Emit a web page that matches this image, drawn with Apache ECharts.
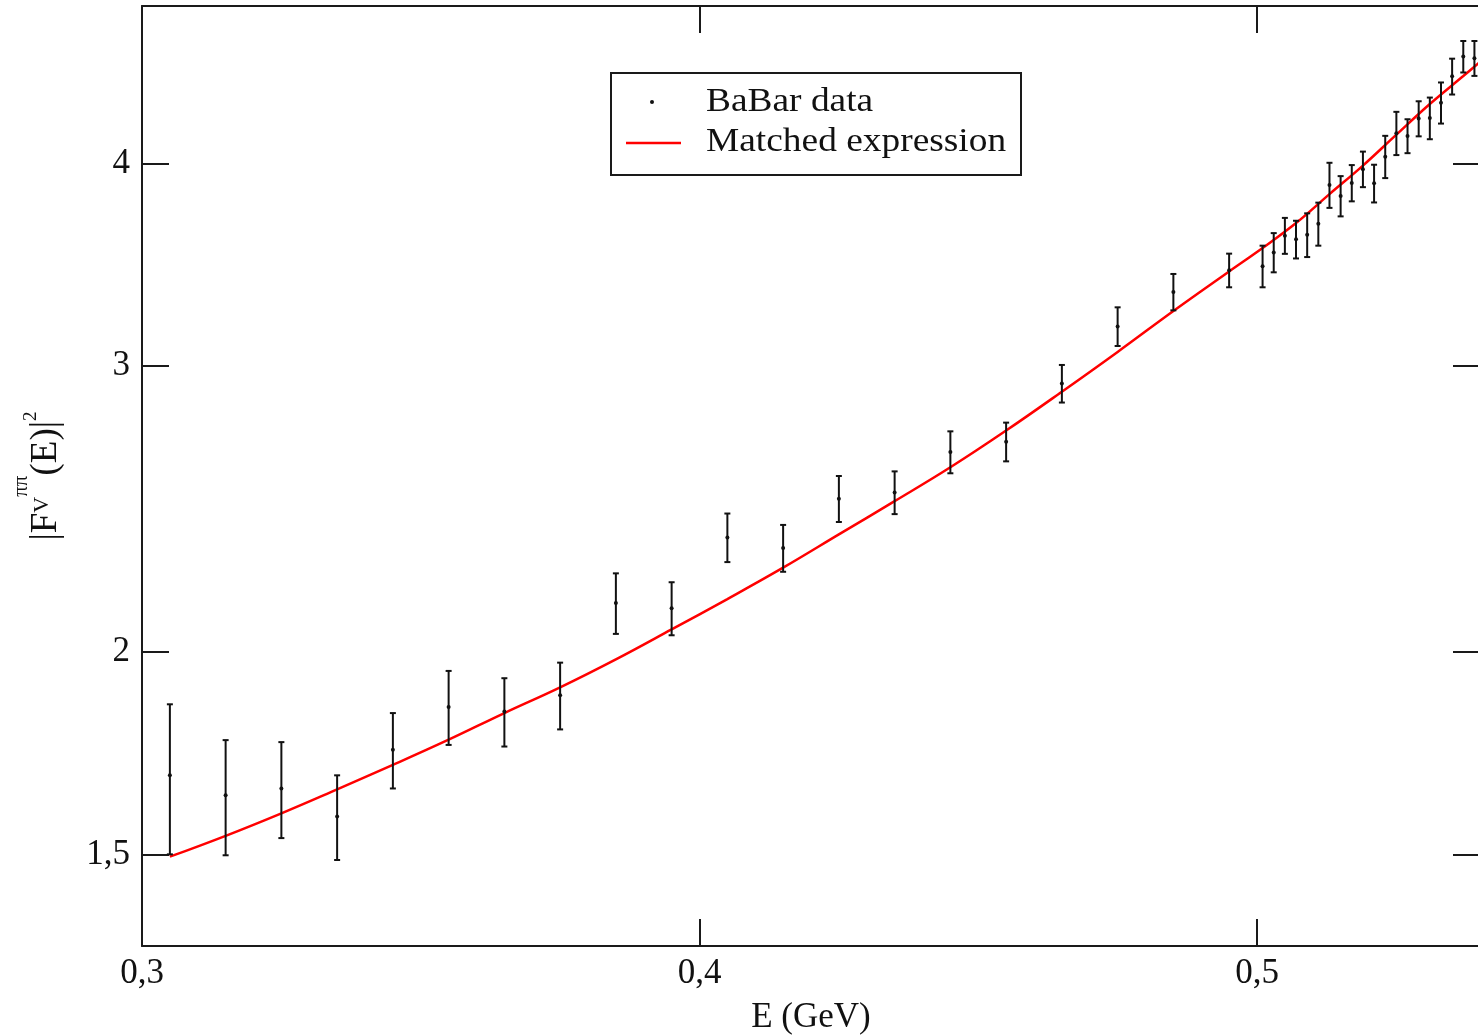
<!DOCTYPE html>
<html>
<head>
<meta charset="utf-8">
<script src="https://cdn.jsdelivr.net/npm/echarts@6/dist/echarts.min.js"></script>
<style>
  html, body { margin: 0; padding: 0; background: #fff; }
  #chart { width: 1478px; height: 1036px; }
</style>
</head>
<body>
<div id="chart"></div>
<script>
// BaBar measurement of the pion vector form factor |F_V^{ππ}(E)|^2
const energies = [
  0.305, 0.315, 0.325, 0.335, 0.345, 0.355, 0.365, 0.375, 0.385, 0.395,
  0.405, 0.415, 0.425, 0.435, 0.445, 0.455, 0.465, 0.475, 0.485, 0.495,
  0.501, 0.503, 0.505, 0.507, 0.509, 0.511, 0.513, 0.515, 0.517, 0.519,
  0.521, 0.523, 0.525, 0.527, 0.529, 0.531, 0.533, 0.535, 0.537, 0.539
];
const formFactor = [
  1.679, 1.632, 1.648, 1.584, 1.741, 1.850, 1.838, 1.881, 2.144, 2.128,
  2.353, 2.318, 2.486, 2.508, 2.656, 2.695, 2.927, 3.174, 3.333, 3.437,
  3.457, 3.525, 3.610, 3.591, 3.614, 3.671, 3.879, 3.819, 3.890, 3.967,
  3.888, 4.038, 4.175, 4.158, 4.262, 4.265, 4.359, 4.525, 4.654, 4.643
];
const formFactorErr = [
  0.178, 0.133, 0.112, 0.095, 0.093, 0.097, 0.089, 0.089, 0.092, 0.080,
  0.081, 0.077, 0.081, 0.076, 0.079, 0.074, 0.078, 0.087, 0.086, 0.082,
  0.102, 0.098, 0.092, 0.096, 0.112, 0.112, 0.124, 0.109, 0.100, 0.100,
  0.104, 0.121, 0.128, 0.100, 0.106, 0.126, 0.127, 0.115, 0.104, 0.115
];

// Matched expression
const curveEnergies = [
  0.305, 0.315, 0.325, 0.335, 0.345, 0.355, 0.365, 0.375, 0.385, 0.395,
  0.405, 0.415, 0.425, 0.435, 0.445, 0.455, 0.465, 0.475, 0.485, 0.495,
  0.501, 0.507, 0.513, 0.519, 0.525, 0.531, 0.537, 0.540
];
const curveValues = [
  1.496, 1.541, 1.591, 1.646, 1.704, 1.766, 1.834, 1.902, 1.979, 2.065,
  2.156, 2.254, 2.363, 2.477, 2.599, 2.738, 2.893, 3.061, 3.244, 3.431,
  3.547, 3.675, 3.829, 3.987, 4.166, 4.351, 4.527, 4.618
];

const xTicks = [0.3, 0.4, 0.5];
const yTicks = [1.5, 2, 3, 4];

const SERIF = '"Liberation Serif", "Times New Roman", serif';
const INK = '#1a1a1a';
const commaLabel = v => String(v).replace('.', ',');

const axisLine = { show: true, onZero: false, lineStyle: { color: INK, width: 2 } };
const tickStyle = { show: true, inside: true, length: 27, lineStyle: { color: INK, width: 2 } };
const labelStyle = { fontSize: 35, fontFamily: SERIF, color: '#111' };

const chart = echarts.init(document.getElementById('chart'), null, { renderer: 'canvas' });

chart.setOption({
  animation: false,
  backgroundColor: '#fff',
  grid: { left: 142, top: 6, width: 1338, height: 940, containLabel: false, outerBoundsMode: 'none' },
  xAxis: [
    {
      type: 'value', min: 0.3, max: 0.54, position: 'bottom',
      axisLine: axisLine,
      axisTick: Object.assign({}, tickStyle, { customValues: xTicks }),
      axisLabel: Object.assign({}, labelStyle, { customValues: xTicks, formatter: commaLabel, margin: 10 }),
      splitLine: { show: false },
      name: 'E (GeV)', nameLocation: 'middle', nameGap: 54,
      nameTextStyle: { fontSize: 35, fontFamily: SERIF, color: '#111' }
    },
    {
      type: 'value', min: 0.3, max: 0.54, position: 'top',
      axisLine: axisLine,
      axisTick: Object.assign({}, tickStyle, { customValues: xTicks }),
      axisLabel: { show: false },
      splitLine: { show: false }
    }
  ],
  yAxis: [
    {
      type: 'log', logBase: 10, min: 1.318, max: 5, position: 'left',
      axisLine: axisLine,
      axisTick: Object.assign({}, tickStyle, { customValues: yTicks }),
      axisLabel: Object.assign({}, labelStyle, { customValues: yTicks, formatter: commaLabel, margin: 12 }),
      splitLine: { show: false },
      name: '{b|\u007CF}{sub|V}{sup|\u03C0\u03C0}{b|(E)\u007C}{sq|2}',
      nameLocation: 'middle', nameRotate: 90, nameGap: 60,
      nameTextStyle: {
        rich: {
          b: { fontSize: 37, fontFamily: SERIF, color: '#111' },
          sub: { fontSize: 22, fontFamily: SERIF, color: '#111', padding: [0, 0, 8, 0] },
          sup: { fontSize: 21, fontFamily: SERIF, color: '#111', padding: [0, 0, 50, 0] },
          sq: { fontSize: 19, fontFamily: SERIF, color: '#111', padding: [0, 0, 30, 0] }
        }
      }
    },
    {
      type: 'log', logBase: 10, min: 1.318, max: 5, position: 'right',
      axisLine: axisLine,
      axisTick: Object.assign({}, tickStyle, { customValues: yTicks }),
      axisLabel: { show: false },
      splitLine: { show: false }
    }
  ],
  graphic: [
    { type: 'rect', z: 100, shape: { x: 611, y: 73, width: 410, height: 102 },
      style: { fill: '#fff', stroke: INK, lineWidth: 2 } },
    { type: 'circle', z: 101, shape: { cx: 652, cy: 102, r: 2 }, style: { fill: '#111' } },
    { type: 'line', z: 101, shape: { x1: 626, y1: 143, x2: 681, y2: 143 },
      style: { stroke: '#ff0000', lineWidth: 2.5 } },
    { type: 'text', z: 101, x: 706, y: 102, scaleX: 1.1,
      style: { text: 'BaBar data', fontSize: 34, fontFamily: SERIF, fill: '#111', verticalAlign: 'middle' } },
    { type: 'text', z: 101, x: 706, y: 142, scaleX: 1.1,
      style: { text: 'Matched expression', fontSize: 34, fontFamily: SERIF, fill: '#111', verticalAlign: 'middle' } }
  ],
  series: [
    {
      name: 'Matched expression',
      type: 'line',
      xAxisIndex: 0, yAxisIndex: 0,
      data: curveEnergies.map((e, i) => [e, curveValues[i]]),
      smooth: 0.4,
      showSymbol: false,
      lineStyle: { color: '#ff0000', width: 2.5 },
      z: 3
    },
    {
      name: 'BaBar data',
      type: 'custom',
      xAxisIndex: 0, yAxisIndex: 0,
      data: energies.map((e, i) => [e, formFactor[i], formFactor[i] - formFactorErr[i], formFactor[i] + formFactorErr[i]]),
      encode: { x: 0, y: 1 },
      renderItem: function (params, api) {
        const e = api.value(0);
        const mid = api.coord([e, api.value(1)]);
        const lo = api.coord([e, api.value(2)]);
        const hi = api.coord([e, api.value(3)]);
        const cap = 3;
        const st = { stroke: '#111', lineWidth: 2 };
        return {
          type: 'group',
          children: [
            { type: 'line', shape: { x1: hi[0], y1: hi[1], x2: lo[0], y2: lo[1] }, style: st },
            { type: 'line', shape: { x1: hi[0] - cap, y1: hi[1], x2: hi[0] + cap, y2: hi[1] }, style: st },
            { type: 'line', shape: { x1: lo[0] - cap, y1: lo[1], x2: lo[0] + cap, y2: lo[1] }, style: st },
            { type: 'circle', shape: { cx: mid[0], cy: mid[1], r: 2 }, style: { fill: '#111' } }
          ]
        };
      },
      z: 4
    }
  ]
});
</script>
</body>
</html>
